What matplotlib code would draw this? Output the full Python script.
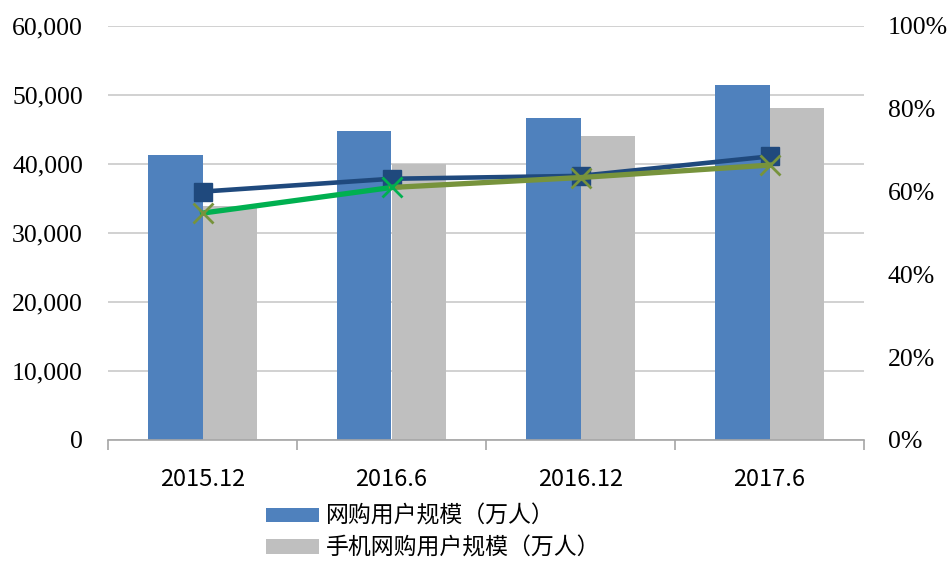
import matplotlib.pyplot as plt
import numpy as np
from matplotlib.ticker import FuncFormatter, FixedLocator

# data
categories = ['2015.12', '2016.6', '2016.12', '2017.6']
online_users = [41325, 44772, 46670, 51443]        # 网购用户规模（万人）
mobile_users = [33967, 40070, 44093, 48064]        # 手机网购用户规模（万人）
online_rate = [60.0, 63.1, 63.8, 68.5]             # 网购使用率 (%)
mobile_rate = [54.8, 61.0, 63.4, 66.4]             # 手机网购使用率 (%)

blue_bar = '#4F81BD'
grey_bar = '#BFBFBF'
blue_line = '#1F497D'
green_line = '#00B050'
olive_line = '#77933C'
grid_col = '#C9C9C9'

cjk = ['Noto Sans CJK SC', 'DejaVu Sans']
serif = 'Liberation Serif'

fig = plt.figure(figsize=(9.49, 5.65), dpi=100)
ax = fig.add_axes([108 / 949, 1 - 440 / 565, (864 - 108) / 949, (440 - 26) / 565])

x = np.arange(len(categories))
w = 0.291
ax.bar(x - w / 2, online_users, w, color=blue_bar, label='网购用户规模（万人）', zorder=2)
ax.bar(x + w / 2, mobile_users, w, color=grey_bar, label='手机网购用户规模（万人）', zorder=2)

ax.set_xlim(-0.5, len(categories) - 0.5)
ax.set_ylim(0, 60000)
ax.set_yticks(np.arange(0, 60001, 10000))
ax.yaxis.set_major_formatter(FuncFormatter(lambda v, p: f'{int(v):,}'))
ax.yaxis.grid(True, color=grid_col, lw=1.2)
ax.set_axisbelow(True)
for s in ['top', 'left', 'right']:
    ax.spines[s].set_visible(False)
ax.spines['bottom'].set_color('#A6A6A6')
ax.spines['bottom'].set_linewidth(1.2)

ax.set_xticks(x)
ax.set_xticklabels(categories, family=cjk, fontsize=17)
ax.xaxis.set_minor_locator(FixedLocator(np.arange(-0.5, len(categories), 1.0)))
ax.tick_params(axis='x', which='major', length=0, pad=20)
ax.tick_params(axis='x', which='minor', length=7, color='#A6A6A6', width=1.2)
ax.tick_params(axis='y', length=0, pad=18)
for lab in ax.get_yticklabels():
    lab.set_family(serif)
    lab.set_fontsize(18.5)

ax2 = ax.twinx()
ax2.set_ylim(0, 100)
ax2.set_yticks(np.arange(0, 101, 20))
ax2.yaxis.set_major_formatter(FuncFormatter(lambda v, p: f'{int(v)}%'))
ax2.tick_params(axis='y', length=0, pad=17)
for lab in ax2.get_yticklabels():
    lab.set_family(serif)
    lab.set_fontsize(18.5)
for s in ax2.spines.values():
    s.set_visible(False)

# online rate line with squares
ax2.plot(x, online_rate, color=blue_line, lw=3.3, marker='s', ms=13,
         mfc=blue_line, mec=blue_line, zorder=3)

# mobile rate line: first segment bright green, the rest olive
ax2.plot(x[:2], mobile_rate[:2], color=green_line, lw=3.8, zorder=4)
ax2.plot(x[1:], mobile_rate[1:], color=olive_line, lw=3.8, zorder=4)
mk_cols = [olive_line, green_line, olive_line, olive_line]
for xi, yi, c in zip(x, mobile_rate, mk_cols):
    ax2.plot(xi, yi, marker='x', ms=14, mew=2, color=c, zorder=5)

handles, labels = ax.get_legend_handles_labels()
fig.legend(handles, labels, loc='upper left', bbox_to_anchor=(266 / 949, 1 - 505 / 565),
           frameon=False, prop={'family': cjk, 'size': 16.5}, handlelength=2.3,
           handleheight=0.6, handletextpad=0.3, labelspacing=0.38,
           borderpad=0, borderaxespad=0)

fig.savefig('out.png', dpi=100)
